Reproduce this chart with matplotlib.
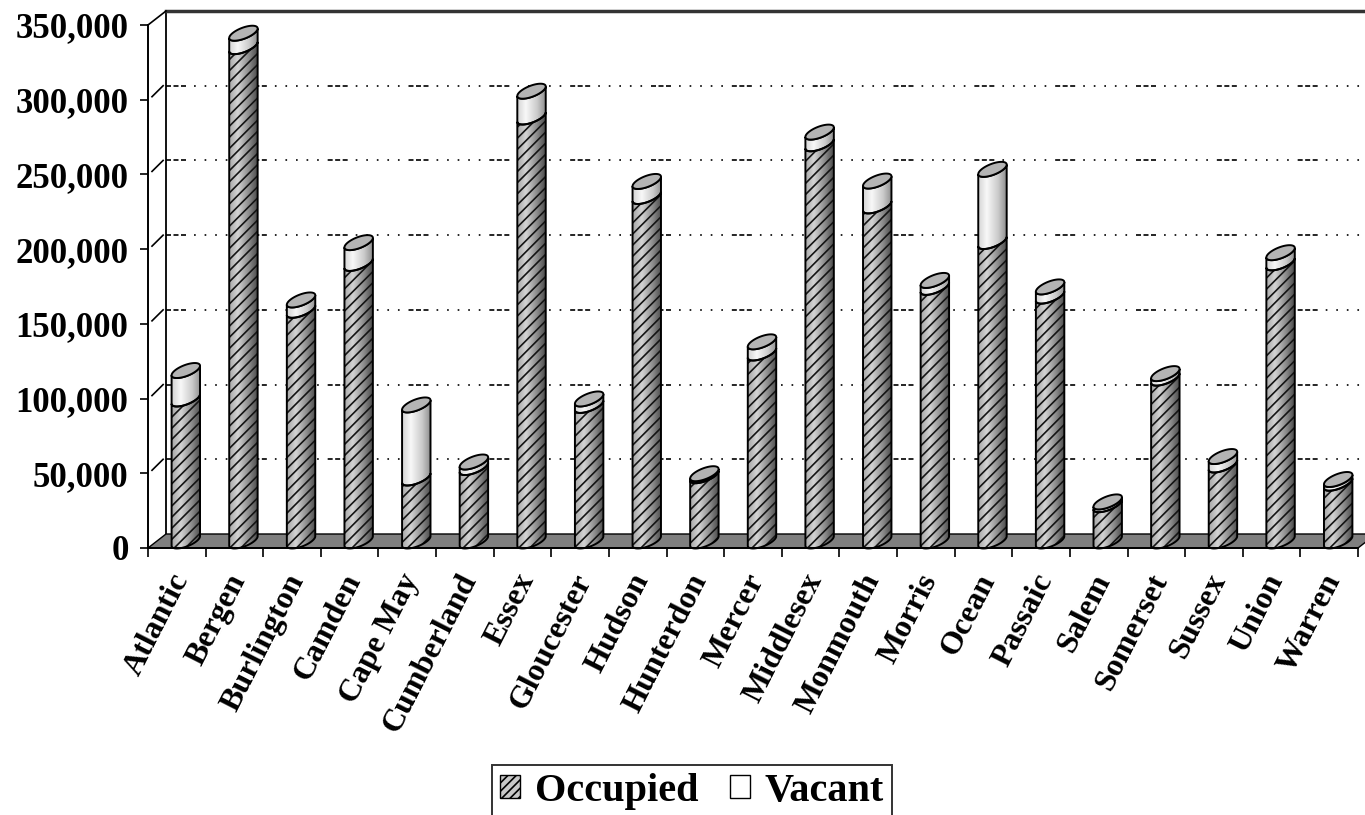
import numpy as np
import matplotlib
matplotlib.use('Agg')
import matplotlib.pyplot as plt
from matplotlib.patches import Polygon, Patch
from matplotlib.transforms import ScaledTranslation
from matplotlib.colors import LinearSegmentedColormap
from matplotlib.ticker import FuncFormatter

# housing units by county (occupied / vacant)
counties = ['Atlantic', 'Bergen', 'Burlington', 'Camden', 'Cape May', 'Cumberland',
            'Essex', 'Gloucester', 'Hudson', 'Hunterdon', 'Mercer', 'Middlesex',
            'Monmouth', 'Morris', 'Ocean', 'Passaic', 'Salem', 'Somerset',
            'Sussex', 'Union', 'Warren']
occupied = [95024, 330817, 154371, 185744, 42148, 49143, 283736, 90717, 230546,
            43678, 125807, 265815, 224236, 169711, 200402, 163856, 24295, 108984,
            50831, 186124, 38660]
vacant = [19066, 9003, 6940, 13935, 48899, 3720, 17275, 4337, 10072, 1354, 7473,
          7822, 16648, 4668, 48309, 6192, 1863, 3039, 5697, 6821, 2497]
y_ticks = [0, 50000, 100000, 150000, 200000, 250000, 300000, 350000]

plt.rcParams['font.family'] = ['Liberation Serif', 'DejaVu Serif']
plt.rcParams['font.weight'] = 'bold'
plt.rcParams['hatch.linewidth'] = 1.2
plt.rcParams['lines.scale_dashes'] = False

fig = plt.figure(figsize=(13.65, 8.15), dpi=100)
ax = fig.add_axes([148 / 1365, 267 / 815, 1210 / 1365, 523 / 815])
n = len(counties)
ymax = y_ticks[-1]
ax.set_xlim(0, n)
ax.set_ylim(0, ymax)

# pixel -> data conversion (front plane)
sx = 1210 / n
sy = 523 / ymax
DEPTH = (18, 14)          # full floor depth in pixels
MID = (9, 7)              # cylinders sit half way back


def off(x, y, px, py):
    return x + px / sx, y + py / sy


# back wall gridlines + side wall stubs
dot = (1.2, 6.4)
grid_style = (0, (3.6, 1.8, 3.6, 1.8, 3.6, 5.8) + dot * 5)
for v in y_ticks[1:-1]:
    x0, y0 = off(0, v, *DEPTH)
    x1, y1 = off(n, v, *DEPTH)
    ax.plot([x0, x1], [y0, y1], color='black', lw=1.2, ls=grid_style,
            clip_on=False, zorder=1)
    xa, ya = off(0, v, 4, 3)
    ax.plot([xa, x0 - 0.05], [ya, y0], color='black', lw=1.2, clip_on=False, zorder=1)

# wall outlines
bx0, by0 = off(0, 0, *DEPTH)
bx1, by1 = off(0, ymax, *DEPTH)
bx2, by2 = off(n, ymax, *DEPTH)
ax.plot([bx0, bx1], [by0, by1], color='black', lw=1.3, clip_on=False, zorder=1)
ax.plot([bx1, bx2], [by1, by2], color='#333333', lw=2.5, clip_on=False, zorder=1)
ax.plot([0, bx1], [ymax, by1], color='black', lw=1.2, clip_on=False, zorder=1)

# floor
floor = Polygon([off(0, 0, 0, 0), off(n, 0, 0, 0), off(n, 0, *DEPTH), off(0, 0, *DEPTH)],
                closed=True, facecolor='#7f7f7f', edgecolor='black', lw=1.0,
                clip_on=False, zorder=1.5)
ax.add_patch(floor)

# cylinder geometry (pixels)
A, B, C = 11.0, 9.0, 7.5
th0 = np.arctan2(B, A)


def ell(xc, v, th):
    px = MID[0] + A * np.cos(th) + B * np.sin(th)
    py = MID[1] + C * np.sin(th)
    return off(xc, v, px, py)


def body(xc, v0, v1):
    th = np.linspace(th0 + np.pi, th0 + 2 * np.pi, 40)
    bx, by = ell(xc, v0, th)
    tx, ty = ell(xc, v1, th[::-1])
    return np.column_stack([np.concatenate([bx, tx]), np.concatenate([by, ty])])


occ_cmap = LinearSegmentedColormap.from_list(
    'occ', [(0, '#a8a8a8'), (0.3, '#d4d4d4'), (0.7, '#8a8a8a'), (1, '#4a4a4a')])
vac_cmap = LinearSegmentedColormap.from_list(
    'vac', [(0, '#d4d4d4'), (0.3, '#f8f8f8'), (0.7, '#cbcbcb'), (1, '#8e8e8e')])
grad = np.linspace(0, 1, 64)[None, :]

for i in range(n):
    xc = i + 0.5
    segs = [(0, occupied[i], occ_cmap, True),
            (occupied[i], occupied[i] + vacant[i], vac_cmap, False)]
    for v0, v1, cmap, hatched in segs:
        verts = body(xc, v0, v1)
        shape = Polygon(verts, closed=True, facecolor='none', edgecolor='none',
                        zorder=3)
        ax.add_patch(shape)
        xl, _ = off(xc, 0, MID[0] - np.hypot(A, B), 0)
        xr, _ = off(xc, 0, MID[0] + np.hypot(A, B), 0)
        _, yb = off(xc, v0, 0, -10)
        _, yt = off(xc, v1, 0, 25)
        im = ax.imshow(grad, cmap=cmap, extent=(xl, xr, yb, yt), aspect='auto',
                       origin='lower', zorder=3, interpolation='bilinear')
        im.set_clip_path(shape)
        im.set_clip_box(None)
        if hatched:
            ax.add_patch(Polygon(verts, closed=True, facecolor='none',
                                 edgecolor='#141414', hatch='///', lw=0,
                                 clip_on=False, zorder=4))
        ax.add_patch(Polygon(verts, closed=True, fill=False, edgecolor='black',
                             lw=1.4, clip_on=False, zorder=5))
    th = np.linspace(0, 2 * np.pi, 80)
    cx, cy = ell(xc, occupied[i] + vacant[i], th)
    ax.add_patch(Polygon(np.column_stack([cx, cy]), closed=True, facecolor='#b4b4b4',
                         edgecolor='black', lw=1.4, clip_on=False, zorder=6))

ax.set_xlim(0, n)
ax.set_ylim(0, ymax)

# axes styling
for s in ['top', 'right']:
    ax.spines[s].set_visible(False)
ax.spines['left'].set_linewidth(1.4)
ax.spines['bottom'].set_linewidth(1.4)
ax.spines['bottom'].set_zorder(7)

ax.set_yticks(y_ticks)
ax.yaxis.set_major_formatter(FuncFormatter(lambda v, p: f'{int(v):,}'))
ax.tick_params(axis='y', length=5.5, width=1.2, pad=8.5, labelsize=25)

ax.set_xticks(np.arange(n) + 0.5)
ax.set_xticklabels(counties, rotation=63, ha='right', va='center',
                   rotation_mode='anchor')
ax.set_xticks(np.arange(n + 1), minor=True)
ax.tick_params(axis='x', which='major', length=0, pad=20, labelsize=23)
ax.tick_params(axis='x', which='minor', length=6.5, width=1.2)
shift = ScaledTranslation(5 / 100, 0, fig.dpi_scale_trans)
for lab in ax.get_xticklabels():
    lab.set_transform(lab.get_transform() + shift)

handles = [Patch(facecolor='#c8c8c8', edgecolor='black', hatch='////', lw=1),
           Patch(facecolor='white', edgecolor='black', lw=1)]
leg = fig.legend(handles, ['Occupied', 'Vacant'], loc='upper center',
                 bbox_to_anchor=(0.507, 1 - 765 / 815), ncol=2, fontsize=29,
                 frameon=True, fancybox=False, edgecolor='black',
                 handlelength=0.5, handleheight=0.5, handletextpad=0.35,
                 columnspacing=0.8, borderpad=0.2, borderaxespad=0)
leg.get_frame().set_linewidth(1.4)

fig.savefig('out.png', dpi=100)
